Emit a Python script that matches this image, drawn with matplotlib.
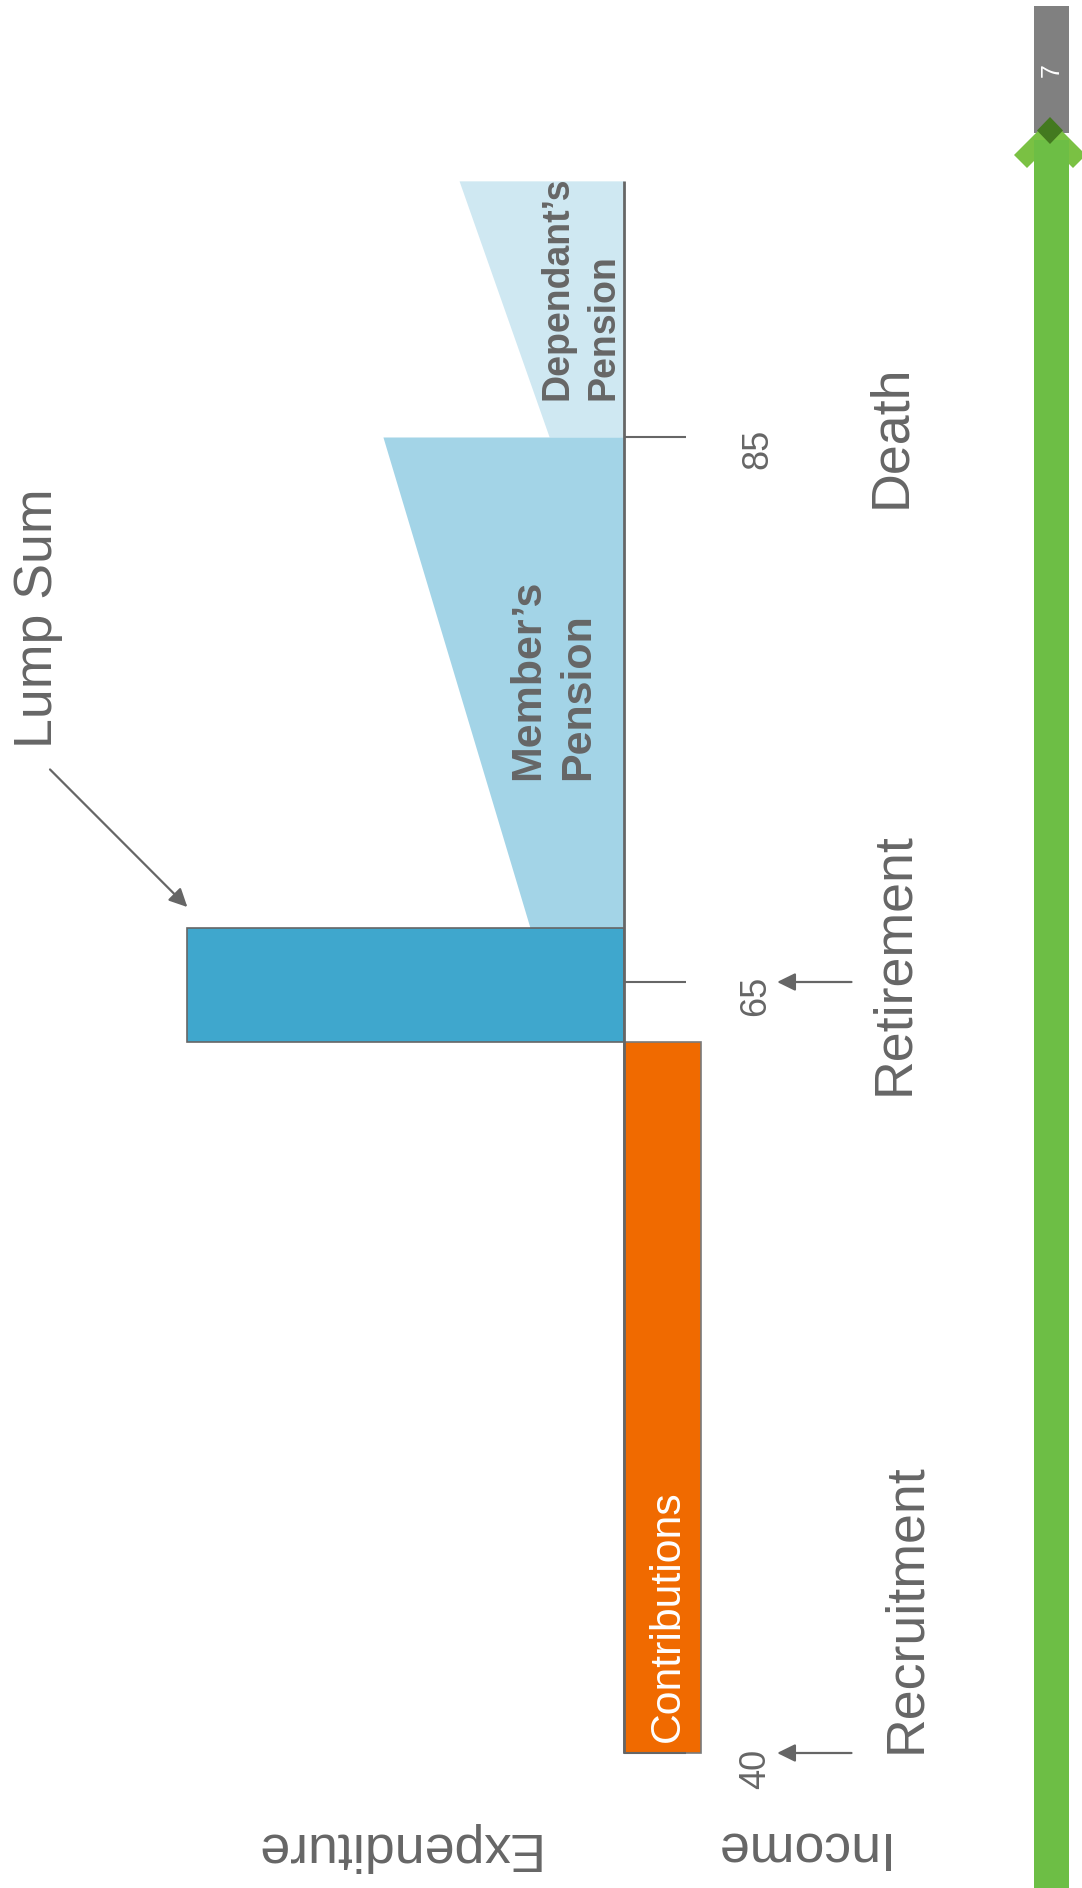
import numpy as np
import matplotlib
matplotlib.use("Agg")
import matplotlib.pyplot as plt
from matplotlib.patches import Polygon, Rectangle
from matplotlib.transforms import Affine2D

# ---- data -------------------------------------------------------------
stage_ages = [40, 65, 85]
stage_names = ["Recruitment", "Retirement", "Death"]

contribution_ages = [40, 63.05]
contribution_level = 17.5

lump_sum_ages = [63.05, 67.0]
lump_sum_amount = 100

member_pension_ages = [67.0, 85]
member_pension_amounts = [21.5, 55.1]

dependant_pension_ages = [85, 94.4]
dependant_pension_amounts = [17.1, 37.7]

# ---- style ------------------------------------------------------------
GREY = "#666666"
ORANGE = "#F06A00"
LUMP_BLUE = "#3FA7CD"
MEMBER_BLUE = "#A3D4E7"
DEPENDANT_BLUE = "#CFE8F2"
GREEN = "#6DBE45"
LIGHT_GREEN = "#7AC143"
DARK_GREEN = "#43791F"
FONT = "Liberation Sans"
plt.rcParams["font.family"] = [FONT, "DejaVu Sans"]

BIG = 38.7
W, H = 1082, 1888
fig = plt.figure(figsize=(W / 100, H / 100), dpi=100)
fig.patch.set_facecolor("white")
ax = fig.add_axes([0, 0, 1, 1])

# piecewise-linear age axis (the timeline is not drawn to a uniform scale)
AGE_KNOTS = np.array([0.0, 40.0, 65.0, 85.0, 150.0])
POS_KNOTS = np.array([135 - 40 * 30.84, 135.0, 906.0, 1451.0, 1451 + 65 * 27.25])


def age_fwd(a):
    return np.interp(a, AGE_KNOTS, POS_KNOTS)


def age_inv(p):
    return np.interp(p, POS_KNOTS, AGE_KNOTS)


ax.set_yscale("function", functions=(age_fwd, age_inv))
ax.set_ylim(age_inv(0), age_inv(H))
px_per_unit = 4.375
ax.set_xlim(-624 / px_per_unit, (W - 624) / px_per_unit)
ax.axis("off")

# expenditure is drawn to the left of the baseline, income to the right
ax.fill_betweenx(dependant_pension_ages, 0, -np.array(dependant_pension_amounts),
                 color=DEPENDANT_BLUE, lw=0, zorder=1)
ax.fill_betweenx(member_pension_ages, 0, -np.array(member_pension_amounts),
                 color=MEMBER_BLUE, lw=0, zorder=1)
ax.barh(lump_sum_ages[0], -lump_sum_amount, height=lump_sum_ages[1] - lump_sum_ages[0],
        left=0, align="edge", color=LUMP_BLUE, edgecolor=GREY, lw=1.2, zorder=2)
ax.barh(contribution_ages[0], contribution_level,
        height=contribution_ages[1] - contribution_ages[0],
        left=0, align="edge", color=ORANGE, edgecolor="#7a7a7a", lw=1.2, zorder=2)

# timeline baseline and age ticks
ax.plot([0, 0], [stage_ages[0], dependant_pension_ages[-1]], color=GREY, lw=2.0,
        zorder=3, solid_capstyle="butt")
ax.hlines(stage_ages, 0, 14.2, color=GREY, lw=1.5, zorder=3)

# arrows from the stage names to the ages
for age in stage_ages[:2]:
    ax.annotate("", xy=(35.0, age), xytext=(52.0, age),
                arrowprops=dict(arrowstyle="-|>,head_length=0.55,head_width=0.27",
                                mutation_scale=20, color=GREY, lw=1.6,
                                shrinkA=0, shrinkB=0))

# lump sum pointer
ax.annotate("", xy=(-99.8, 67.75), xytext=(-131.2, 72.8),
            arrowprops=dict(arrowstyle="-|>,head_length=0.55,head_width=0.27",
                            mutation_scale=20, color=GREY, lw=1.6,
                            shrinkA=0, shrinkB=0))


def ptxt(px, py, s, **kw):
    kw.setdefault("color", GREY)
    kw.setdefault("ha", "left")
    kw.setdefault("va", "baseline")
    fig.text(px / W, 1 - py / H, s, rotation_mode="anchor", **kw)


ptxt(52, 748, "Lump Sum", rotation=90, size=BIG)
ptxt(539, 780, "Member\u2019s", rotation=90, size=31, weight="bold")
ptxt(589, 780, "Pension", rotation=90, size=31, weight="bold")
ptxt(568, 400, "Dependant\u2019s", rotation=90, size=27, weight="bold")
ptxt(614, 400, "Pension", rotation=90, size=27, weight="bold")
ptxt(679, 1742, "Contributions", rotation=90, size=30.8, color="white")

stage_anchor = [(920, 1753), (908, 1095), (905, 508)]
number_anchor = [(765, 1789), (765, 1016), (767, 469)]
for name, age, (sx, sy), (nx, ny) in zip(stage_names, stage_ages, stage_anchor, number_anchor):
    ptxt(sx, sy, name, rotation=90, size=BIG)
    ptxt(nx, ny, str(age), rotation=90, size=26)

ptxt(886, 1833, "Income", rotation=180, size=BIG)
ptxt(538, 1833, "Expenditure", rotation=180, size=BIG)

# side bar decoration with page number
pix = Affine2D().scale(1 / W, -1 / H).translate(0, 1) + fig.transFigure
fig.add_artist(Rectangle((1034, 6), 35, 127, color="#808080", transform=pix, lw=0))
fig.add_artist(Polygon([(1014, 155), (1050, 119), (1086, 155), (1073, 168),
                        (1050, 145), (1027, 168)], closed=True, color=LIGHT_GREEN,
                       transform=pix, lw=0))
fig.add_artist(Rectangle((1034, 140), 35, H - 140, color=GREEN, transform=pix, lw=0))
fig.add_artist(Polygon([(1050, 117), (1063, 130.5), (1050, 144), (1037, 130.5)],
                       closed=True, color=DARK_GREEN, transform=pix, lw=0))
fig.text(1052 / W, 1 - 70 / H, "7", rotation=90, ha="center", va="center",
         color="white", size=18)

fig.savefig("out.png", dpi=100, facecolor="white")
